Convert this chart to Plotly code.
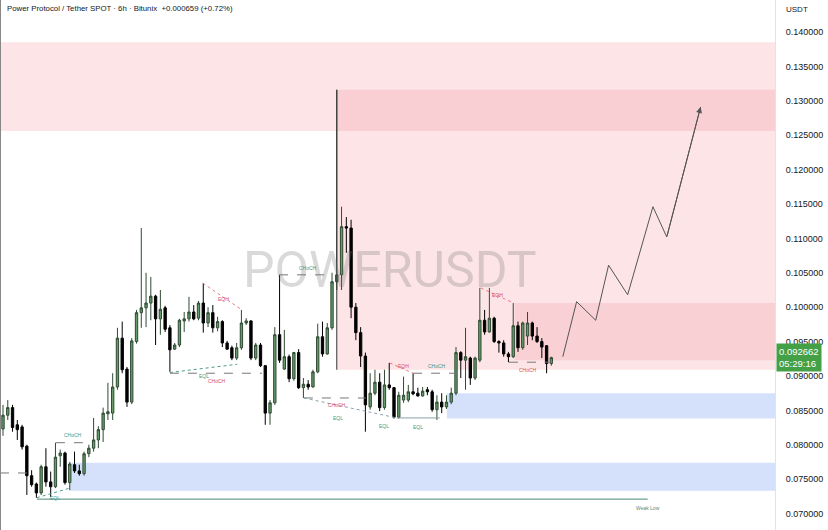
import plotly.graph_objects as go

# ---------------- data (6h candles, POWER/USDT) ----------------
opens = [0.0823,0.0843,0.0854,0.0829,0.0826,0.0798,0.0755,0.0743,0.0730,0.0768,
         0.0746,0.0739,0.0784,0.0788,0.0745,0.0771,0.0762,0.0758,0.0787,0.0795,
         0.0807,0.0822,0.0845,0.0846,0.0884,0.0955,0.0910,0.0862,0.0950,0.0992,
         0.0999,0.1006,0.1016,0.0983,0.0999,0.0970,0.0939,0.0945,0.0980,0.0983,
         0.0993,0.0984,0.1006,0.0977,0.0992,0.0970,0.0979,0.0948,0.0941,0.0926,
         0.0941,0.0977,0.0980,0.0926,0.0945,0.0915,0.0846,0.0861,0.0960,0.0910,
         0.0928,0.0896,0.0934,0.0883,0.0888,0.0884,0.0906,0.0957,0.0932,0.0970,
         0.1037,0.1047,0.1117,0.1115,0.1000,0.0963,0.0929,0.0855,0.0875,0.0891,
         0.0854,0.0887,0.0883,0.0840,0.0865,0.0865,0.0877,0.0875,0.0871,0.0880,
         0.0877,0.0851,0.0862,0.0855,0.0862,0.0875,0.0934,0.0923,0.0926,0.0897,
         0.0923,0.0981,0.0964,0.0984,0.0950,0.0948,0.0932,0.0928,0.0973,0.0941,
         0.0958,0.0977,0.0958,0.0950,0.0944,0.0918]
highs = [0.0858,0.0865,0.0858,0.0836,0.0829,0.0800,0.0763,0.0745,0.0771,0.0795,
         0.0761,0.0803,0.0793,0.0790,0.0775,0.0790,0.0771,0.0790,0.0800,0.0839,
         0.0827,0.0854,0.0890,0.0904,0.0970,0.0979,0.0913,0.0955,0.0996,0.1115,
         0.1050,0.1044,0.1018,0.1025,0.1002,0.0974,0.0948,0.0983,0.0993,0.1015,
         0.1003,0.1009,0.1035,0.1000,0.1003,0.0986,0.0981,0.0951,0.0944,0.0948,
         0.0996,0.0984,0.0981,0.0948,0.0948,0.0916,0.0865,0.0971,0.1047,0.0967,
         0.0931,0.0935,0.0939,0.0897,0.0894,0.0909,0.0976,0.0979,0.0977,0.1050,
         0.1316,0.1146,0.1131,0.1127,0.1006,0.0971,0.0934,0.0904,0.0909,0.0904,
         0.0909,0.0919,0.0884,0.0877,0.0899,0.0887,0.0904,0.0883,0.0884,0.0884,
         0.0880,0.0872,0.0875,0.0872,0.0883,0.0942,0.0936,0.0970,0.0928,0.0928,
         0.1028,0.0996,0.1028,0.0986,0.0952,0.0952,0.0935,0.1006,0.0979,0.0979,
         0.0993,0.0979,0.0971,0.0955,0.0945,0.0928]
lows = [0.0813,0.0836,0.0819,0.0807,0.0793,0.0727,0.0739,0.0723,0.0727,0.0739,
        0.0724,0.0737,0.0768,0.0742,0.0734,0.0759,0.0755,0.0755,0.0782,0.0790,
        0.0795,0.0804,0.0836,0.0836,0.0880,0.0904,0.0855,0.0859,0.0947,0.0970,
        0.0971,0.0981,0.0945,0.0960,0.0964,0.0906,0.0938,0.0942,0.0964,0.0979,
        0.0981,0.0981,0.0963,0.0971,0.0963,0.0965,0.0942,0.0938,0.0923,0.0923,
        0.0938,0.0974,0.0923,0.0923,0.0913,0.0829,0.0829,0.0858,0.0919,0.0909,
        0.0891,0.0893,0.0881,0.0868,0.0880,0.0883,0.0904,0.0928,0.0931,0.0967,
        0.1025,0.1025,0.1079,0.0984,0.0952,0.0913,0.0819,0.0851,0.0872,0.0849,
        0.0851,0.0880,0.0838,0.0838,0.0861,0.0862,0.0872,0.0870,0.0870,0.0872,
        0.0848,0.0836,0.0846,0.0852,0.0859,0.0872,0.0897,0.0880,0.0887,0.0894,
        0.0920,0.0960,0.0963,0.0948,0.0934,0.0928,0.0920,0.0926,0.0935,0.0938,
        0.0945,0.0952,0.0948,0.0926,0.0904,0.0915]
closes = [0.0843,0.0854,0.0825,0.0822,0.0797,0.0755,0.0742,0.0730,0.0768,0.0746,
          0.0739,0.0782,0.0788,0.0745,0.0772,0.0762,0.0758,0.0787,0.0795,0.0807,
          0.0822,0.0846,0.0848,0.0884,0.0955,0.0909,0.0862,0.0951,0.0992,0.0999,
          0.1006,0.1016,0.0983,0.0997,0.0968,0.0938,0.0945,0.0981,0.0983,0.0993,
          0.0983,0.1006,0.0977,0.0992,0.0970,0.0979,0.0948,0.0939,0.0926,0.0941,
          0.0977,0.0980,0.0926,0.0945,0.0915,0.0846,0.0861,0.0960,0.0923,0.0928,
          0.0896,0.0934,0.0883,0.0888,0.0884,0.0906,0.0957,0.0932,0.0970,0.1037,
          0.1047,0.1117,0.1115,0.1000,0.0963,0.0929,0.0858,0.0875,0.0891,0.0854,
          0.0887,0.0883,0.0840,0.0872,0.0872,0.0877,0.0874,0.0871,0.0878,0.0877,
          0.0851,0.0862,0.0855,0.0862,0.0875,0.0934,0.0923,0.0928,0.0897,0.0926,
          0.0981,0.0964,0.0984,0.0950,0.0948,0.0932,0.0928,0.0973,0.0941,0.0977,
          0.0977,0.0958,0.0950,0.0942,0.0918,0.092662]
bars = list(range(len(closes)))

# projected path (bar index, price)
path_x = [117.4, 120.3, 124.3, 127.0, 131.0, 136.3, 139.2, 146.3]
path_y = [0.0928, 0.1008, 0.0981, 0.1061, 0.1018, 0.1146, 0.1102, 0.1291]

# zones: (x0, x1, y0, y1, color)
X_MIN, X_MAX = -0.63, 161.9
Y_MIN, Y_MAX = 0.06761, 0.14465
zones = [
    (X_MIN, X_MAX, 0.1256, 0.1385, "#fde4e6"),
    (70.0, X_MAX, 0.0909, 0.1316, "#fde4e6"),
    (70.0, X_MAX, 0.1256, 0.1316, "#f9cfd3"),
    (107.3, X_MAX, 0.0923, 0.1006, "#f9d0d4"),
    (93.1, X_MAX, 0.0838, 0.0875, "#d5e1fb"),
    (14.0, X_MAX, 0.0733, 0.0774, "#d5e1fb"),
]

# annotation lines: (x0, y0, x1, y1, color, dash)
lines = [
    (X_MIN, 0.0759, 5.0, 0.0759, "#777777", "dash"),
    (11.1, 0.0803, 18.0, 0.0803, "#777777", "dash"),
    (7.1, 0.0723, 14.0, 0.0737, "#4d9a8a", "dot"),
    (41.9, 0.1035, 50.1, 0.0996, "#e57c86", "dot"),
    (35.0, 0.0904, 54.3, 0.0904, "#777777", "dash"),
    (35.0, 0.0905, 49.1, 0.0917, "#4d9a8a", "dot"),
    (57.9, 0.1047, 69.2, 0.1047, "#777777", "dash"),
    (63.1, 0.0868, 76.1, 0.0868, "#777777", "dash"),
    (63.1, 0.0868, 82.6, 0.0839, "#8aa0a8", "dot"),
    (82.6, 0.0839, 91.6, 0.0839, "#8aa0a8", "solid"),
    (81.1, 0.0919, 86.0, 0.0904, "#e57c86", "dot"),
    (86.0, 0.0904, 95.2, 0.0904, "#777777", "dash"),
    (100.2, 0.1028, 107.1, 0.1006, "#e57c86", "dot"),
    (106.1, 0.0920, 115.3, 0.0920, "#777777", "dash"),
    (7.1, 0.0721, 135.2, 0.0721, "#4a8678", "solid"),
    (70.0, 0.0909, 70.0, 0.1316, "#333333", "solid"),
]

# small labels: (x, y, text, color)
labels = [
    (14.7, 0.0814, "CHoCH", "#3f9a86"),
    (10.8, 0.0723, "EQL", "#3f9a86"),
    (46.3, 0.1012, "EQH", "#d9505e"),
    (42.1, 0.0900, "EQL", "#3f9a86"),
    (44.9, 0.0893, "CHoCH", "#d9505e"),
    (63.9, 0.1057, "CHoCH", "#3f9a86"),
    (70.0, 0.0858, "CHoCH", "#d9505e"),
    (70.2, 0.0839, "EQL", "#3f9a86"),
    (79.9, 0.0827, "EQL", "#3f9a86"),
    (87.0, 0.0826, "EQL", "#3f9a86"),
    (83.9, 0.0914, "EQH", "#d9505e"),
    (91.0, 0.0914, "CHoCH", "#3f9a86"),
    (103.8, 0.1018, "EQH", "#d9505e"),
    (110.1, 0.0909, "CHoCH", "#d9505e"),
    (135.2, 0.0708, "Weak Low", "#5a8a80"),
]

tick_vals = [0.070, 0.075, 0.080, 0.085, 0.090, 0.095, 0.100, 0.105,
             0.110, 0.115, 0.120, 0.125, 0.130, 0.135, 0.140]
last_price = closes[-1]
countdown = "05:29:16"
title_text = "Power Protocol / Tether SPOT · 6h · Bitunix  +0.000659 (+0.72%)"

# ---------------- figure ----------------
fig = go.Figure()
fig.add_trace(go.Candlestick(
    x=bars, open=opens, high=highs, low=lows, close=closes,
    increasing=dict(line=dict(color="#2f4a33", width=1), fillcolor="#669b6a"),
    decreasing=dict(line=dict(color="#000000", width=1), fillcolor="#000000"),
    whiskerwidth=0, showlegend=False, hoverinfo="skip",
))
fig.add_trace(go.Scatter(x=path_x, y=path_y, mode="lines",
                         line=dict(color="#555555", width=1),
                         showlegend=False, hoverinfo="skip"))

shapes = []
for x0, x1, y0, y1, c in zones:
    shapes.append(dict(type="rect", xref="x", yref="y", x0=x0, x1=x1, y0=y0, y1=y1,
                       fillcolor=c, line=dict(width=0), layer="below"))
for x0, y0, x1, y1, c, d in lines:
    shapes.append(dict(type="line", xref="x", yref="y", x0=x0, y0=y0, x1=x1, y1=y1,
                       line=dict(color=c, width=1, dash=d), layer="above"))
shapes.append(dict(type="line", xref="paper", yref="paper", x0=0, x1=0, y0=0, y1=1,
                   line=dict(color="#888888", width=2)))

annotations = []
for x, y, t, c in labels:
    annotations.append(dict(x=x, y=y, xref="x", yref="y", text=t, showarrow=False,
                            font=dict(size=5, color=c, family="Liberation Sans")))
annotations.append(dict(x=path_x[-1], y=path_y[-1], ax=path_x[-2], ay=path_y[-2],
                        xref="x", yref="y", axref="x", ayref="y", text="",
                        showarrow=True, arrowhead=2, arrowsize=1.2, arrowwidth=1,
                        arrowcolor="#555555"))
annotations.append(dict(x=0.503, y=0.49, xref="paper", yref="paper", text="POWERUSDT",
                        showarrow=False,
                        font=dict(size=50, color="rgba(120,120,120,0.28)", family="Roboto")))
annotations.append(dict(x=0.006, y=1 - 9 / 530, xref="paper", yref="paper", text=title_text,
                        showarrow=False, xanchor="left", yanchor="middle",
                        font=dict(size=7.8, color="#131722", family="Liberation Sans")))
annotations.append(dict(x=1.0116, y=1 - 10 / 530, xref="paper", yref="paper", text="USDT",
                        showarrow=False, xanchor="left", yanchor="middle",
                        font=dict(size=8, color="#131722", family="Liberation Sans")))
annotations.append(dict(x=1.0015, y=last_price, xref="paper", yref="y",
                        text=f"{last_price:.6f}<br>{countdown}", showarrow=False,
                        xanchor="left", yanchor="middle", align="left",
                        bgcolor="#43a047", borderpad=2,
                        font=dict(size=9.5, color="#ffffff", family="Liberation Sans")))

fig.update_layout(
    width=828, height=530,
    margin=dict(l=0, r=53, t=0, b=0, pad=0, autoexpand=False),
    paper_bgcolor="#ffffff", plot_bgcolor="#ffffff",
    shapes=shapes, annotations=annotations, showlegend=False,
    xaxis=dict(range=[X_MIN, X_MAX], showgrid=False, zeroline=False, automargin=False,
               showticklabels=False, rangeslider=dict(visible=False), fixedrange=True),
    yaxis=dict(range=[Y_MIN, Y_MAX], side="right", showgrid=False, zeroline=False,
               automargin=False, fixedrange=True,
               tickvals=tick_vals, tickformat=".6f", ticks="", ticklabelstandoff=8,
               showline=True, linecolor="#e0e3eb", linewidth=1,
               tickfont=dict(size=9, color="#131722", family="Liberation Sans")),
)

fig.write_html("out.html", config={"displayModeBar": False},
               post_script="document.body.style.margin='0';document.body.style.overflow='hidden';")
